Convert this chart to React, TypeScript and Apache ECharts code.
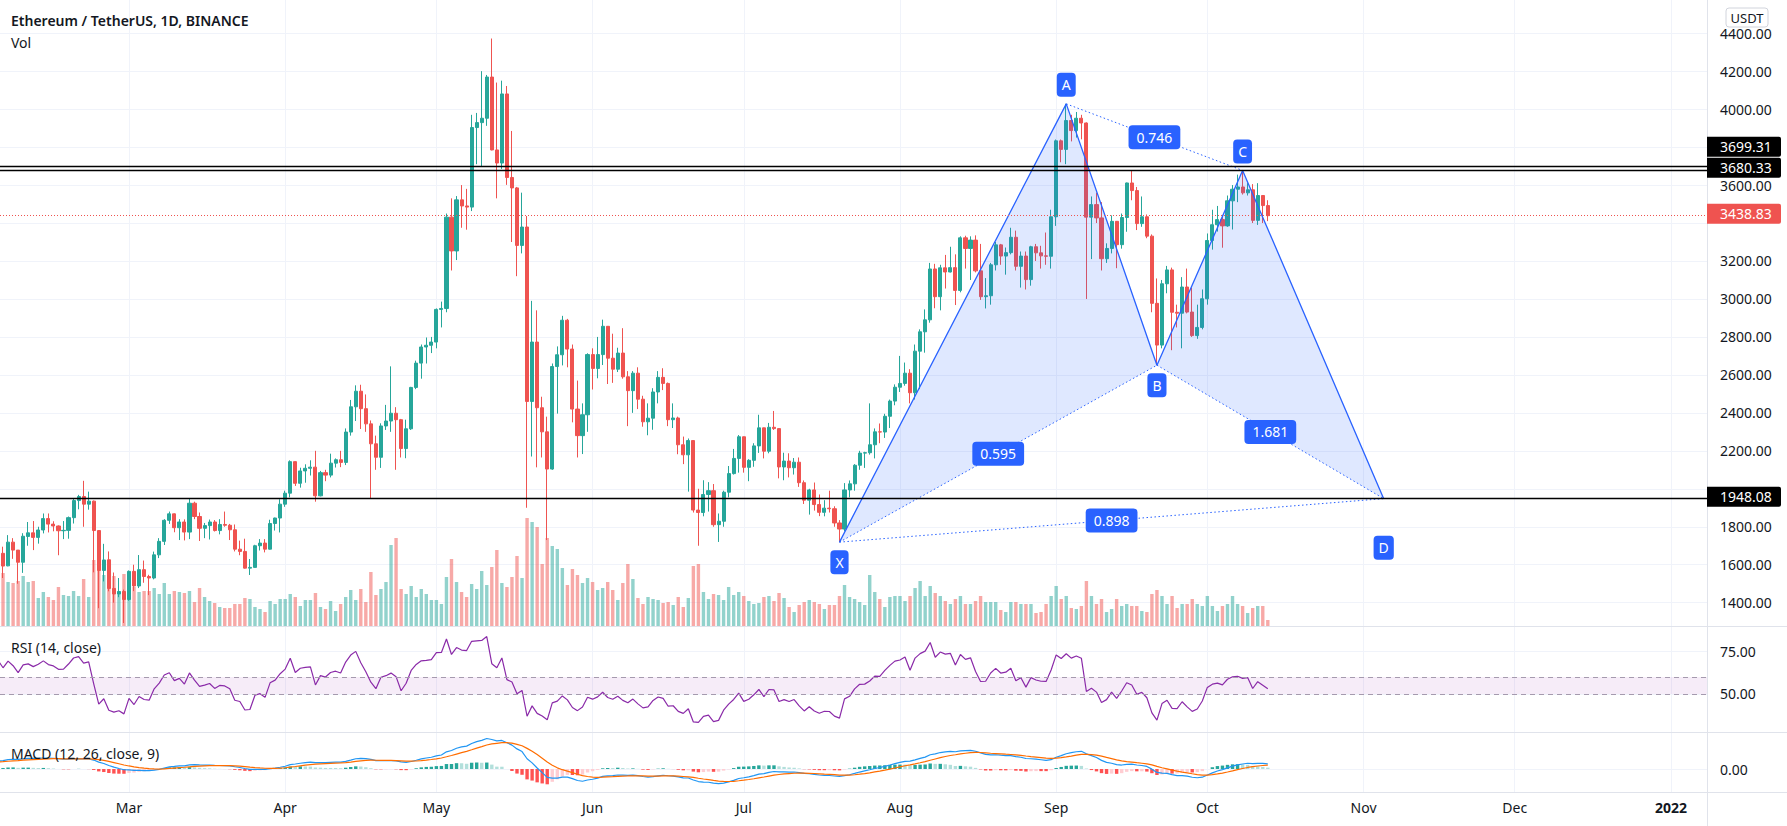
import React, { useEffect, useRef } from 'react';
import * as echarts from 'echarts';

const FONT = '"Noto Sans", Roboto, sans-serif';
const TEXT = '#131722';
const UP = '#26a69a';
const DOWN = '#ef5350';

const startDate = '2021-02-03';
// daily candles [open, high, low, close], Feb 3 2021 .. Oct 13 2021
const ohlc: number[][] = [
  // Feb
  [1511, 1675, 1505, 1660], [1660, 1695, 1530, 1593], [1594, 1756, 1592, 1719], [1719, 1740, 1631, 1677],
  [1677, 1677, 1500, 1613], [1613, 1766, 1557, 1750], [1749, 1825, 1700, 1768], [1768, 1830, 1677, 1744],
  [1744, 1800, 1711, 1783], [1783, 1870, 1765, 1843], [1843, 1870, 1770, 1814], [1814, 1829, 1776, 1804],
  [1804, 1807, 1650, 1779], [1779, 1830, 1735, 1781], [1781, 1854, 1737, 1848], [1848, 1950, 1817, 1938],
  [1938, 1968, 1892, 1959], [1959, 2042, 1800, 1919], [1919, 1985, 1890, 1935], [1935, 1938, 1560, 1780],
  [1780, 1782, 1371, 1570], [1570, 1710, 1512, 1625], [1626, 1670, 1460, 1475], [1475, 1559, 1400, 1446],
  [1446, 1530, 1429, 1459], [1459, 1469, 1293, 1417],
  // Mar
  [1417, 1570, 1410, 1565], [1565, 1600, 1461, 1488], [1488, 1651, 1477, 1574], [1574, 1622, 1505, 1538],
  [1538, 1547, 1440, 1530], [1530, 1669, 1523, 1652], [1652, 1740, 1635, 1723], [1723, 1840, 1704, 1834],
  [1834, 1880, 1815, 1868], [1868, 1870, 1771, 1795], [1795, 1840, 1730, 1825], [1825, 1839, 1728, 1772],
  [1772, 1946, 1735, 1924], [1924, 1932, 1840, 1854], [1854, 1875, 1725, 1792], [1792, 1820, 1740, 1806],
  [1806, 1838, 1733, 1825], [1825, 1835, 1775, 1780], [1780, 1840, 1760, 1812], [1812, 1880, 1800, 1808],
  [1808, 1815, 1730, 1784], [1784, 1812, 1670, 1682], [1682, 1727, 1650, 1670], [1670, 1737, 1580, 1582],
  [1582, 1630, 1546, 1586], [1586, 1705, 1585, 1700], [1700, 1735, 1675, 1714], [1714, 1735, 1665, 1682],
  [1682, 1837, 1680, 1817], [1817, 1848, 1780, 1846], [1846, 1945, 1770, 1919],
  // Apr
  [1919, 1990, 1905, 1977], [1977, 2150, 1955, 2143], [2143, 2145, 2015, 2029], [2029, 2111, 2006, 2094],
  [2094, 2129, 2032, 2108], [2108, 2150, 2070, 2114], [2114, 2200, 1932, 1963], [1963, 2094, 1960, 2085],
  [2085, 2100, 2040, 2072], [2072, 2185, 2060, 2135], [2135, 2160, 2112, 2153], [2153, 2200, 2114, 2139],
  [2139, 2318, 2125, 2299], [2299, 2468, 2280, 2432], [2432, 2545, 2357, 2514], [2514, 2548, 2315, 2422],
  [2422, 2497, 2300, 2342], [2342, 2360, 1950, 2237], [2237, 2280, 2100, 2166], [2166, 2345, 2110, 2331],
  [2331, 2442, 2310, 2357], [2357, 2645, 2300, 2398], [2398, 2430, 2100, 2364], [2364, 2368, 2165, 2212],
  [2212, 2364, 2161, 2316], [2316, 2537, 2310, 2534], [2534, 2675, 2525, 2662], [2662, 2760, 2580, 2747],
  [2747, 2797, 2660, 2756], [2756, 2800, 2715, 2773],
  // May
  [2773, 2950, 2740, 2945], [2945, 2986, 2850, 2950], [2950, 3450, 2930, 3431], [3431, 3530, 3150, 3253],
  [3253, 3542, 3205, 3522], [3522, 3600, 3375, 3490], [3490, 3580, 3365, 3484], [3484, 3970, 3463, 3903],
  [3903, 3980, 3710, 3929], [3929, 4200, 3700, 3952], [3952, 4180, 3912, 4169], [4169, 4372, 3783, 3785],
  [3785, 4140, 3530, 3716], [3716, 4150, 3685, 4080], [4080, 4122, 3601, 3640], [3640, 3885, 3300, 3585],
  [3585, 3590, 3120, 3282], [3282, 3560, 3240, 3379], [3379, 3437, 1900, 2460], [2460, 2990, 2170, 2773],
  [2773, 2940, 2113, 2427], [2427, 2485, 2165, 2300], [2300, 2380, 1730, 2104], [2104, 2660, 2100, 2644],
  [2644, 2750, 2396, 2706], [2706, 2911, 2650, 2888], [2888, 2895, 2640, 2736], [2736, 2760, 2350, 2420],
  [2420, 2570, 2165, 2280], [2280, 2450, 2183, 2390], [2390, 2714, 2300, 2707],
  // Jun
  [2707, 2740, 2523, 2634], [2634, 2800, 2582, 2707], [2707, 2891, 2652, 2856], [2856, 2857, 2552, 2688],
  [2688, 2817, 2558, 2630], [2630, 2743, 2615, 2715], [2715, 2846, 2580, 2590], [2590, 2620, 2330, 2517],
  [2517, 2620, 2400, 2609], [2609, 2640, 2420, 2472], [2472, 2490, 2327, 2353], [2353, 2450, 2282, 2372],
  [2372, 2530, 2311, 2510], [2510, 2620, 2450, 2587], [2587, 2635, 2520, 2555], [2555, 2560, 2330, 2364],
  [2364, 2450, 2320, 2373], [2373, 2380, 2182, 2232], [2232, 2275, 2130, 2179], [2179, 2265, 1985, 2254],
  [2254, 2255, 1875, 1888], [1888, 2000, 1700, 1875], [1875, 2045, 1855, 1970], [1970, 2035, 1880, 1990],
  [1990, 2025, 1800, 1811], [1811, 1870, 1720, 1829], [1829, 1990, 1800, 1982], [1982, 2120, 1955, 2080],
  [2080, 2210, 2075, 2160], [2160, 2283, 2085, 2274],
  // Jul
  [2274, 2275, 2085, 2113], [2113, 2156, 2040, 2150], [2150, 2240, 2116, 2226], [2226, 2390, 2189, 2321],
  [2321, 2322, 2160, 2198], [2198, 2347, 2187, 2324], [2324, 2410, 2310, 2317], [2317, 2318, 2055, 2115],
  [2115, 2190, 2045, 2146], [2146, 2187, 2060, 2111], [2111, 2162, 2075, 2140], [2140, 2165, 2010, 2032],
  [2032, 2044, 1920, 1940], [1940, 2000, 1864, 1994], [1994, 2033, 1885, 1917], [1917, 1970, 1856, 1876],
  [1876, 1940, 1855, 1898], [1898, 1990, 1875, 1895], [1895, 1908, 1800, 1820], [1820, 1835, 1719, 1788],
  [1788, 2030, 1776, 1994], [1994, 2044, 1955, 2026], [2026, 2130, 1990, 2124], [2124, 2200, 2100, 2188],
  [2188, 2195, 2110, 2190], [2190, 2450, 2180, 2232], [2232, 2318, 2160, 2300], [2300, 2344, 2240, 2299],
  [2299, 2395, 2268, 2382], [2382, 2470, 2320, 2462], [2462, 2550, 2440, 2535],
  // Aug
  [2535, 2700, 2510, 2555], [2555, 2665, 2543, 2609], [2609, 2630, 2450, 2506], [2506, 2760, 2470, 2725],
  [2725, 2840, 2525, 2827], [2827, 2945, 2717, 2890], [2890, 3190, 2875, 3158], [3158, 3185, 2951, 3012],
  [3012, 3180, 2940, 3164], [3164, 3232, 3055, 3142], [3142, 3275, 3140, 3165], [3165, 3235, 2968, 3045],
  [3045, 3330, 3035, 3322], [3322, 3333, 3160, 3266], [3266, 3330, 3100, 3310], [3310, 3335, 3140, 3148],
  [3148, 3290, 2995, 3012], [3012, 3110, 2950, 3017], [3017, 3190, 2970, 3180], [3180, 3300, 3150, 3285],
  [3285, 3290, 3180, 3226], [3226, 3271, 3128, 3244], [3244, 3375, 3235, 3325], [3325, 3360, 3150, 3172],
  [3172, 3250, 3060, 3226], [3226, 3250, 3050, 3102], [3102, 3280, 3070, 3275], [3275, 3290, 3200, 3243],
  [3243, 3280, 3160, 3227], [3227, 3350, 3180, 3225], [3225, 3470, 3160, 3433],
  // Sep
  [3433, 3840, 3385, 3833], [3833, 3840, 3720, 3788], [3788, 4028, 3710, 3940], [3940, 3970, 3830, 3887],
  [3887, 3985, 3850, 3952], [3952, 3970, 3841, 3927], [3927, 3930, 3000, 3431], [3431, 3540, 3210, 3497],
  [3497, 3560, 3400, 3427], [3427, 3510, 3150, 3212], [3212, 3293, 3190, 3266], [3266, 3440, 3240, 3409],
  [3409, 3410, 3162, 3286], [3286, 3450, 3265, 3429], [3429, 3613, 3354, 3611], [3611, 3675, 3520, 3571],
  [3571, 3590, 3363, 3397], [3397, 3540, 3380, 3433], [3433, 3445, 3320, 3331], [3331, 3340, 2930, 2977],
  [2977, 3108, 2651, 2757], [2757, 3100, 2740, 3080], [3080, 3174, 3030, 3153], [3153, 3165, 2730, 2930],
  [2930, 2970, 2850, 2925], [2925, 3115, 2740, 3063], [3063, 3160, 2924, 2931], [2931, 3060, 2800, 2807],
  [2807, 2970, 2790, 2850], [2850, 3050, 2840, 3001],
  // Oct
  [3001, 3345, 2970, 3308], [3308, 3470, 3260, 3391], [3391, 3490, 3355, 3418], [3418, 3440, 3270, 3385],
  [3385, 3545, 3380, 3517], [3517, 3600, 3366, 3578], [3578, 3655, 3510, 3590], [3590, 3677, 3550, 3559],
  [3559, 3610, 3545, 3575], [3575, 3605, 3400, 3414], [3414, 3610, 3390, 3545], [3545, 3546, 3400, 3492],
  [3492, 3520, 3410, 3438.83],
];

// volume (relative units)
const volume: number[] = [
  50, 53, 44, 43, 45, 50, 44, 45, 28, 34, 29, 26, 39, 31, 30, 35, 30, 47, 29, 66, 74, 51, 56, 50, 34, 52,
  44, 39, 34, 35, 35, 38, 32, 43, 32, 35, 34, 33, 35, 24, 38, 29, 25, 23, 19, 18, 18, 22, 22, 28, 27, 19, 17, 14, 25, 22, 27,
  27, 32, 29, 20, 26, 26, 33, 19, 17, 25, 15, 22, 29, 36, 26, 37, 24, 54, 31, 37, 44, 81, 88, 37, 32, 40, 29, 37, 32, 26,
  26, 22, 49, 67, 44, 34, 29, 42, 37, 55, 41, 59, 76, 43, 39, 49, 70, 48, 108, 104, 99, 62, 88, 80, 77, 58, 41, 57, 51, 43, 48,
  44, 36, 38, 44, 36, 26, 43, 62, 47, 28, 22, 29, 27, 26, 23, 24, 21, 29, 19, 28, 60, 62, 34, 27, 32, 31, 26, 39, 31, 34,
  30, 25, 22, 23, 29, 30, 25, 33, 28, 19, 14, 21, 24, 26, 24, 22, 17, 21, 21, 30, 41, 29, 27, 24, 21, 51, 34, 27, 19, 29, 30,
  30, 25, 30, 38, 45, 30, 40, 33, 30, 25, 22, 27, 30, 22, 22, 25, 30, 24, 24, 24, 16, 14, 24, 24, 22, 22, 22, 13, 14, 22, 30,
  40, 27, 30, 18, 17, 20, 45, 30, 22, 27, 14, 17, 27, 20, 22, 20, 20, 15, 14, 32, 36, 30, 22, 30, 18, 22, 22, 27, 22, 20,
  30, 20, 15, 20, 22, 30, 22, 20, 13, 18, 20, 20, 6,
];

// closes before the visible window (Dec 1 2020 .. Feb 2 2021), used to warm up RSI / MACD
const warmupCloses: number[] = [
  587, 598, 616, 569, 596, 601, 591, 574, 573, 559, 545, 568, 590, 586, 589, 636, 643, 654, 658, 639, 608, 634, 584, 612,
  626, 635, 683, 731, 731, 751, 737,
  730, 775, 979, 1042, 1100, 1208, 1225, 1224, 1281, 1262, 1090, 1043, 1130, 1218, 1171, 1233, 1230, 1257, 1377, 1382,
  1121, 1236, 1232, 1391, 1324, 1357, 1252, 1331, 1381, 1378, 1314,
  1370, 1512,
];

const monthTickDates = ['2021-03-01', '2021-04-01', '2021-05-01', '2021-06-01', '2021-07-01', '2021-08-01',
  '2021-09-01', '2021-10-01', '2021-11-01', '2021-12-01', '2022-01-01'];
const monthTickLabels = ['Mar', 'Apr', 'May', 'Jun', 'Jul', 'Aug', 'Sep', 'Oct', 'Nov', 'Dec', '2022'];
const priceTicks = [1400, 1600, 1800, 2000, 2200, 2400, 2600, 2800, 3000, 3200, 3400, 3600, 3800, 4000, 4200, 4400];
const rsiTicks = [50, 75];
const macdTicks = [0];
const rsiBand = [50, 60];

const levelLines = [3699.31, 3680.33, 1948.08];
const lastPrice = 3438.83;

const patternLabels = ['X', 'A', 'B', 'C', 'D'];
const patternDates = ['2021-07-20', '2021-09-03', '2021-09-21', '2021-10-08', '2021-11-05'];
const patternPrices = [1719, 4027.88, 2651, 3677, 1948.08];
const patternLabelAbove = [false, true, false, true, false];
const patternTriangles = [[0, 1, 2], [2, 3, 4]];
const ratioPairs = [[0, 2], [1, 3], [2, 4], [0, 4]];
const ratioLabels = ['0.595', '0.746', '1.681', '0.898'];

// ---------- helpers ----------
const DAY0 = Date.parse('2021-01-01T00:00:00Z');
const dayIndex = (s: string) => (Date.parse(s + 'T00:00:00Z') - DAY0) / 86400000;
const X_MIN = 33.4;
const X_MAX = 372.16;

function calcRsi(c: number[], n: number): (number | null)[] {
  const out: (number | null)[] = c.map(() => null);
  let up = 0, dn = 0;
  for (let i = 1; i < c.length; i++) {
    const ch = c[i] - c[i - 1];
    const u = Math.max(ch, 0), d = Math.max(-ch, 0);
    if (i <= n) {
      up += u / n; dn += d / n;
      if (i === n) out[i] = dn === 0 ? 100 : 100 - 100 / (1 + up / dn);
    } else {
      up = (up * (n - 1) + u) / n; dn = (dn * (n - 1) + d) / n;
      out[i] = dn === 0 ? 100 : 100 - 100 / (1 + up / dn);
    }
  }
  return out;
}
function calcEma(src: number[], n: number): number[] {
  const a = 2 / (n + 1);
  const out: number[] = [];
  let prev = src[0];
  src.forEach((v, i) => { prev = i === 0 ? v : a * v + (1 - a) * prev; out.push(prev); });
  return out;
}

function buildOption() {
  const start = dayIndex(startDate);
  const days = ohlc.map((_, i) => start + i);
  const candleData = ohlc.map((r, i) => [days[i], r[0], r[3], r[2], r[1]]);
  const volData = volume.map((v, i) => ({
    value: [days[i], v],
    itemStyle: { color: ohlc[i][3] >= ohlc[i][0] ? 'rgba(38,166,154,0.5)' : 'rgba(239,83,80,0.5)' },
  }));

  const allCloses = warmupCloses.concat(ohlc.map((r) => r[3]));
  const off = warmupCloses.length;
  const rsiAll = calcRsi(allCloses, 14);
  const ema12 = calcEma(allCloses, 12);
  const ema26 = calcEma(allCloses, 26);
  const macdAll = ema12.map((v, i) => v - ema26[i]);
  const sigAll = calcEma(macdAll, 9);
  const histAll = macdAll.map((v, i) => v - sigAll[i]);

  const rsiData = days.map((d, i) => [d, rsiAll[off + i]]);
  const macdData = days.map((d, i) => [d, macdAll[off + i]]);
  const sigData = days.map((d, i) => [d, sigAll[off + i]]);
  const histData = days.map((d, i) => {
    const h = histAll[off + i];
    const p = histAll[off + i - 1];
    const color = h >= 0 ? (p < h ? '#26a69a' : '#b2dfdb') : (p < h ? '#ffcdd2' : '#ff5252');
    return { value: [d, h], itemStyle: { color } };
  });
  let peak = 0;
  for (let i = off; i < macdAll.length; i++) peak = Math.max(peak, macdAll[i], sigAll[i]);
  const macdMax = peak / 0.824;
  const macdMin = -macdMax * 23 / 37;

  const monthDays = monthTickDates.map(dayIndex);
  const yearDay = dayIndex('2022-01-01');
  const pDays = patternDates.map(dayIndex);

  // price labels hidden behind a price tag on the scale
  const tagPrices = levelLines.concat([lastPrice]);
  const priceLabelTicks = priceTicks.filter((t) => tagPrices.every((p) => Math.abs(p - t) > 60));

  const gridLine = { show: true, lineStyle: { color: '#f0f3fa', width: 1 } };
  const xBase = (gridIndex: number, showLabel: boolean, showSplit: boolean) => ({
    type: 'value', gridIndex, min: X_MIN, max: X_MAX,
    axisLine: { show: false },
    axisTick: { show: false, customValues: monthDays },
    splitLine: showSplit ? gridLine : { show: false },
    axisLabel: {
      show: showLabel, customValues: monthDays, margin: 8, fontFamily: FONT, fontSize: 14, color: TEXT,
      formatter: (v: number) => {
        const k = monthDays.indexOf(v);
        if (k < 0) return '';
        return v === yearDay ? '{y|' + monthTickLabels[k] + '}' : monthTickLabels[k];
      },
      rich: { y: { fontWeight: 'bold', fontFamily: FONT, fontSize: 14, color: TEXT } },
    },
  });
  const yLabel = (ticks: number[]) => ({
    show: true, customValues: ticks, margin: 13, fontFamily: FONT, fontSize: 14, lineHeight: 14, color: TEXT,
    formatter: (v: number) => v.toFixed(2),
  });

  const labelBox = {
    show: true, position: 'inside', color: '#ffffff', backgroundColor: '#2962ff', borderRadius: 4,
    fontFamily: FONT, fontSize: 14, lineHeight: 16, opacity: 1,
  };
  const hiddenDot = { color: 'rgba(0,0,0,0)', opacity: 1 };

  const series: any[] = [
    {
      type: 'bar', name: 'Vol', xAxisIndex: 1, yAxisIndex: 1, data: volData, barWidth: 3.4, z: 1, silent: true,
    },
    {
      type: 'candlestick', name: 'ETHUSDT', xAxisIndex: 0, yAxisIndex: 0, data: candleData,
      encode: { x: 0, y: [1, 2, 3, 4] }, barWidth: 3.6, z: 2,
      itemStyle: { color: UP, color0: DOWN, borderColor: UP, borderColor0: DOWN, borderWidth: 1 },
      markLine: {
        silent: true, symbol: ['none', 'none'], animation: false, label: { show: false },
        data: [
          ...levelLines.map((v) => ({ yAxis: v, lineStyle: { color: '#000000', width: 1.3, type: 'solid' } })),
          { yAxis: lastPrice, lineStyle: { color: DOWN, width: 1, type: [1, 2] } },
        ],
      },
    },
    {
      type: 'custom', xAxisIndex: 0, yAxisIndex: 0, silent: true, z: 3,
      data: patternTriangles.map((_, i) => [pDays[0], patternPrices[0], i]),
      renderItem: (params: any, api: any) => {
        const tri = patternTriangles[params.dataIndex];
        const pts = tri.map((k) => api.coord([pDays[k], patternPrices[k]]));
        return { type: 'polygon', shape: { points: pts }, style: { fill: 'rgba(41,98,255,0.15)', stroke: 'none' } };
      },
    },
    {
      type: 'line', xAxisIndex: 0, yAxisIndex: 0, silent: true, z: 4, showSymbol: false,
      data: pDays.map((d, i) => [d, patternPrices[i]]),
      lineStyle: { color: '#2962ff', width: 1.3 },
    },
    ...ratioPairs.map(([a, b]) => ({
      type: 'line', xAxisIndex: 0, yAxisIndex: 0, silent: true, z: 4, showSymbol: false,
      data: [[pDays[a], patternPrices[a]], [pDays[b], patternPrices[b]]],
      lineStyle: { color: '#2962ff', width: 1, type: [1.5, 2.5] },
    })),
    {
      type: 'scatter', xAxisIndex: 0, yAxisIndex: 0, silent: true, z: 6, symbolSize: 2,
      itemStyle: hiddenDot,
      data: ratioPairs.map(([a, b], i) => ({
        value: [(pDays[a] + pDays[b]) / 2, (patternPrices[a] + patternPrices[b]) / 2],
        label: { formatter: ratioLabels[i] },
      })),
      label: { ...labelBox, padding: [4, 8, 4, 8] },
    },
    {
      type: 'scatter', xAxisIndex: 0, yAxisIndex: 0, silent: true, z: 6, symbolSize: 2,
      itemStyle: hiddenDot,
      data: pDays.map((d, i) => ({
        value: [d, patternPrices[i]],
        label: { formatter: patternLabels[i], offset: [0, patternLabelAbove[i] ? -19 : (i === 4 ? 49 : 20)] },
      })),
      label: { ...labelBox, padding: [4, 5, 4, 5] },
    },
    {
      type: 'line', name: 'RSI', xAxisIndex: 2, yAxisIndex: 2, data: rsiData, showSymbol: false, silent: true,
      lineStyle: { color: '#8a2aa8', width: 1.2 }, z: 3,
      markArea: {
        silent: true, itemStyle: { color: 'rgba(156,39,176,0.09)' },
        data: [[{ yAxis: rsiBand[0] }, { yAxis: rsiBand[1] }]],
      },
      markLine: {
        silent: true, symbol: ['none', 'none'], label: { show: false },
        lineStyle: { color: '#a59aae', width: 1, type: [5, 4] },
        data: rsiBand.map((v) => ({ yAxis: v })),
      },
    },
    {
      type: 'bar', name: 'Histogram', xAxisIndex: 3, yAxisIndex: 3, data: histData, barWidth: 3.4, silent: true, z: 2,
    },
    {
      type: 'line', name: 'MACD', xAxisIndex: 3, yAxisIndex: 3, data: macdData, showSymbol: false, silent: true,
      lineStyle: { color: '#2196f3', width: 1.2 }, z: 3,
    },
    {
      type: 'line', name: 'Signal', xAxisIndex: 3, yAxisIndex: 3, data: sigData, showSymbol: false, silent: true,
      lineStyle: { color: '#ff6d00', width: 1.2 }, z: 3,
    },
  ];

  return {
    animation: false,
    backgroundColor: '#ffffff',
    textStyle: { fontFamily: FONT },
    grid: [
      { left: 0, right: 80, top: 0, height: 626 },
      { left: 0, right: 80, top: 486, height: 140 },
      { left: 0, right: 80, top: 626, height: 106 },
      { left: 0, right: 80, top: 732, height: 60 },
    ],
    xAxis: [xBase(0, false, true), xBase(1, false, false), xBase(2, false, true), xBase(3, true, true)],
    yAxis: [
      {
        type: 'value', gridIndex: 0, position: 'right', min: 1277.2, max: 4574.9, scale: true,
        axisLine: { show: false }, axisTick: { show: false, customValues: priceTicks },
        splitLine: gridLine, axisLabel: yLabel(priceLabelTicks),
      },
      {
        type: 'value', gridIndex: 1, min: 0, max: 140, show: false,
        splitLine: { show: false },
      },
      {
        type: 'value', gridIndex: 2, position: 'right', min: 27.54, max: 90.19,
        axisLine: { show: false }, axisTick: { show: false, customValues: rsiTicks },
        splitLine: gridLine, axisLabel: yLabel(rsiTicks),
      },
      {
        type: 'value', gridIndex: 3, position: 'right', min: macdMin, max: macdMax,
        axisLine: { show: false }, axisTick: { show: false, customValues: macdTicks },
        splitLine: gridLine, axisLabel: yLabel(macdTicks),
      },
    ],
    series,
  };
}

function buildGraphic(chart: any) {
  const yOf = (v: number) => chart.convertToPixel({ yAxisIndex: 0 }, v) as number;
  const boxes = [
    ...levelLines.map((v) => ({ v, color: '#000000' })),
    { v: lastPrice, color: DOWN },
  ].map((b) => ({ ...b, y: yOf(b.v) - 2 }));
  boxes.sort((a, b) => b.y - a.y);
  for (let i = 1; i < boxes.length; i++) {
    if (boxes[i - 1].y - boxes[i].y < 21) boxes[i].y = boxes[i - 1].y - 21;
  }
  const els: any[] = [];
  // pane borders
  [626, 732, 792].forEach((y) => els.push({
    type: 'line', shape: { x1: 0, y1: y + 0.5, x2: 1787, y2: y + 0.5 }, style: { stroke: '#e0e3eb', lineWidth: 1 }, z: 50,
  }));
  els.push({ type: 'line', shape: { x1: 1707.5, y1: 0, x2: 1707.5, y2: 826 }, style: { stroke: '#e0e3eb', lineWidth: 1 }, z: 50 });
  // price tags
  boxes.forEach((b) => {
    els.push({ type: 'rect', shape: { x: 1707, y: b.y - 10, width: 74, height: 20, r: [0, 2, 2, 0] }, style: { fill: b.color }, z: 60 });
    els.push({
      type: 'text', x: 1720, y: b.y, z: 61,
      style: { text: b.v.toFixed(2), fill: '#ffffff', font: '14px ' + FONT, lineHeight: 13, textVerticalAlign: 'middle', textAlign: 'left' },
    });
  });
  // currency tag
  els.push({ type: 'rect', shape: { x: 1726, y: 8, width: 42, height: 19, r: 3 }, style: { fill: '#ffffff', stroke: '#d1d4dc', lineWidth: 1 }, z: 60 });
  els.push({ type: 'text', x: 1747, y: 17.5, z: 61, style: { text: 'USDT', fill: TEXT, font: '13px ' + FONT, lineHeight: 13, textAlign: 'center', textVerticalAlign: 'middle' } });
  // legends
  els.push({ type: 'text', x: 11, y: 20, z: 61, style: { text: 'Ethereum / TetherUS, 1D, BINANCE', fill: TEXT, font: '600 14px ' + FONT, textVerticalAlign: 'middle' } });
  els.push({ type: 'text', x: 11, y: 42, z: 61, style: { text: 'Vol', fill: TEXT, font: '14px ' + FONT, textVerticalAlign: 'middle' } });
  els.push({ type: 'text', x: 11, y: 647, z: 61, style: { text: 'RSI (14, close)', fill: TEXT, font: '14px ' + FONT, textVerticalAlign: 'middle' } });
  els.push({ type: 'text', x: 11, y: 753, z: 61, style: { text: 'MACD (12, 26, close, 9)', fill: TEXT, font: '14px ' + FONT, textVerticalAlign: 'middle' } });
  return els;
}

export default function App() {
  const ref = useRef<HTMLDivElement>(null);
  useEffect(() => {
    if (!ref.current) return;
    const chart = echarts.init(ref.current, null, { renderer: 'svg' });
    chart.setOption(buildOption() as any);
    chart.setOption({ graphic: buildGraphic(chart) } as any);
    return () => chart.dispose();
  }, []);
  return (
    <div
      ref={ref}
      style={{ position: 'fixed', left: 0, top: 0, width: 1787, height: 826, background: '#ffffff' }}
    />
  );
}
